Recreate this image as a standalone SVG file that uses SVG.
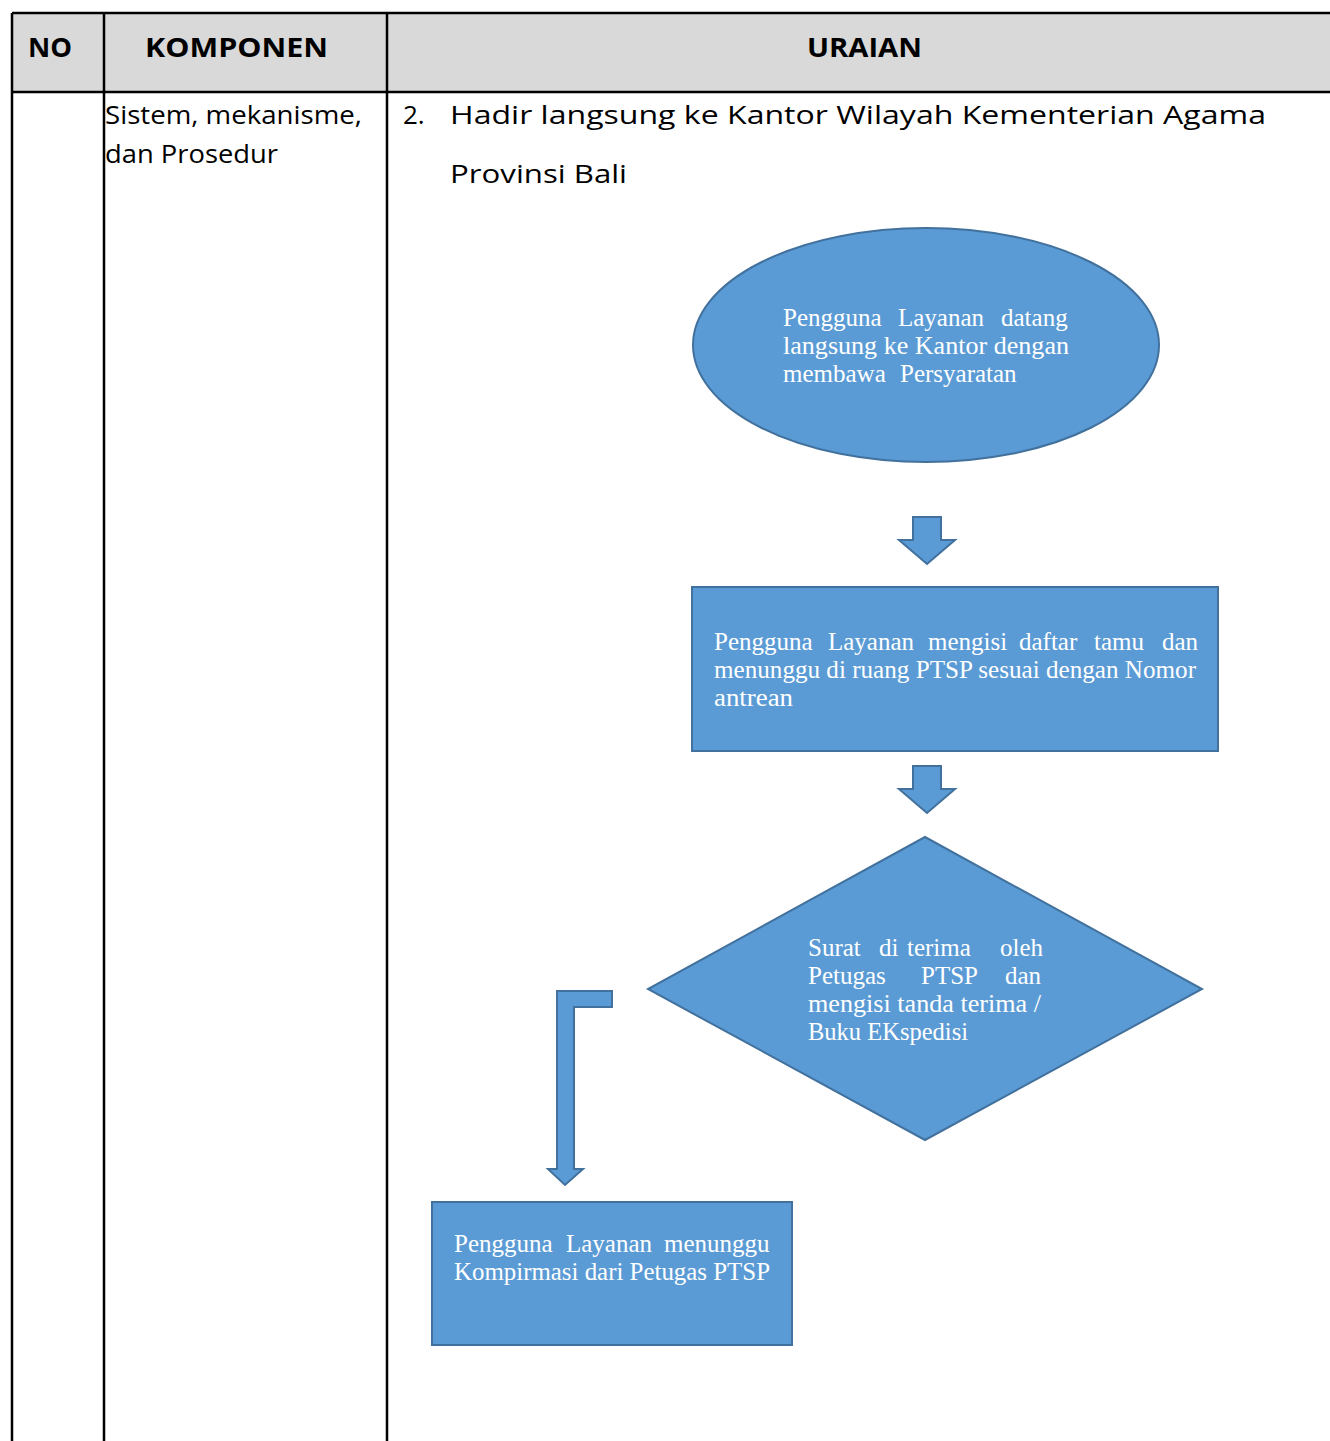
<svg xmlns="http://www.w3.org/2000/svg" width="1330" height="1441" viewBox="0 0 1330 1441">
  <style>
    .grid { stroke: #000; stroke-width: 2.5; fill: none; }
    .head { font-family: "Open Sans", "Liberation Sans", sans-serif; font-weight: 700; font-size: 26px; fill: #000; }
    .body { font-family: "Open Sans", "Liberation Sans", sans-serif; font-size: 26px; fill: #000; }
    .shape { fill: #5b9bd5; stroke: #41719c; stroke-width: 2; }
    .label { font-family: "Liberation Serif", "DejaVu Serif", serif; font-size: 25px; fill: #ffffff; }
  </style>

  <!-- table frame -->
  <g id="table">
    <rect x="12" y="13" width="1330" height="79" fill="#d9d9d9"/>
    <line class="grid" x1="12" y1="13" x2="1330" y2="13"/>
    <line class="grid" x1="12" y1="92" x2="1330" y2="92"/>
    <line class="grid" x1="12" y1="13" x2="12" y2="1441"/>
    <line class="grid" x1="104" y1="13" x2="104" y2="1441"/>
    <line class="grid" x1="387" y1="13" x2="387" y2="1441"/>
    <text class="head" x="28" y="57" textLength="44" lengthAdjust="spacingAndGlyphs">NO</text>
    <text class="head" x="145" y="57" textLength="183" lengthAdjust="spacingAndGlyphs">KOMPONEN</text>
    <text class="head" x="807" y="57" textLength="115" lengthAdjust="spacingAndGlyphs">URAIAN</text>
    <text class="body" x="105" y="124" textLength="257" lengthAdjust="spacingAndGlyphs">Sistem, mekanisme,</text>
    <text class="body" x="105" y="163" textLength="173" lengthAdjust="spacingAndGlyphs">dan Prosedur</text>
    <text class="body" x="403" y="124">2.</text>
    <text class="body" x="450" y="124" textLength="816" lengthAdjust="spacingAndGlyphs">Hadir langsung ke Kantor Wilayah Kementerian Agama</text>
    <text class="body" x="450" y="183" textLength="177" lengthAdjust="spacingAndGlyphs">Provinsi Bali</text>
  </g>

  <!-- start: visitor arrives -->
  <g id="node-datang">
    <ellipse class="shape" cx="926" cy="345" rx="233" ry="117"/>
    <text class="label" y="326"><tspan x="783">Pengguna</tspan><tspan x="898">Layanan</tspan><tspan x="1001">datang</tspan></text>
    <text class="label" x="783" y="354" textLength="286" lengthAdjust="spacingAndGlyphs">langsung ke Kantor dengan</text>
    <text class="label" y="382"><tspan x="783">membawa</tspan><tspan x="900">Persyaratan</tspan></text>
  </g>

  <!-- guest book and queue -->
  <g id="node-antrean">
    <rect class="shape" x="692" y="587" width="526" height="164"/>
    <text class="label" y="650"><tspan x="714">Pengguna</tspan><tspan x="828">Layanan</tspan><tspan x="928">mengisi</tspan><tspan x="1019">daftar</tspan><tspan x="1094">tamu</tspan><tspan x="1162">dan</tspan></text>
    <text class="label" x="714" y="678" textLength="482" lengthAdjust="spacingAndGlyphs">menunggu di ruang PTSP sesuai dengan Nomor</text>
    <text class="label" x="714" y="706" textLength="79" lengthAdjust="spacingAndGlyphs">antrean</text>
  </g>

  <!-- letter received by officer -->
  <g id="node-terima">
    <polygon class="shape" points="925,837 1202,989 925,1140 648,989"/>
    <text class="label" y="956"><tspan x="808">Surat</tspan><tspan x="879">di</tspan><tspan x="907">terima</tspan><tspan x="1000">oleh</tspan></text>
    <text class="label" y="984"><tspan x="808">Petugas</tspan><tspan x="921">PTSP</tspan><tspan x="1005">dan</tspan></text>
    <text class="label" x="808" y="1012" textLength="233" lengthAdjust="spacingAndGlyphs">mengisi tanda terima /</text>
    <text class="label" x="808" y="1040" textLength="160" lengthAdjust="spacingAndGlyphs">Buku EKspedisi</text>
  </g>

  <!-- waiting for confirmation -->
  <g id="node-konfirmasi">
    <rect class="shape" x="432" y="1202" width="360" height="143"/>
    <text class="label" y="1252"><tspan x="454">Pengguna</tspan><tspan x="566">Layanan</tspan><tspan x="664">menunggu</tspan></text>
    <text class="label" x="454" y="1280" textLength="316" lengthAdjust="spacingAndGlyphs">Kompirmasi dari Petugas PTSP</text>
  </g>

  <!-- block arrows between steps -->
  <g id="connectors">
    <polygon class="shape" points="913,517 941,517 941,540 955,540 927,564 899,540 913,540"/>
    <polygon class="shape" points="913,766 941,766 941,789 955,789 927,813 899,789 913,789"/>
    <polygon class="shape" points="557,991 612,991 612,1007 574,1007 574,1169 583,1169 565,1185 548,1169 557,1169"/>
  </g>
</svg>
